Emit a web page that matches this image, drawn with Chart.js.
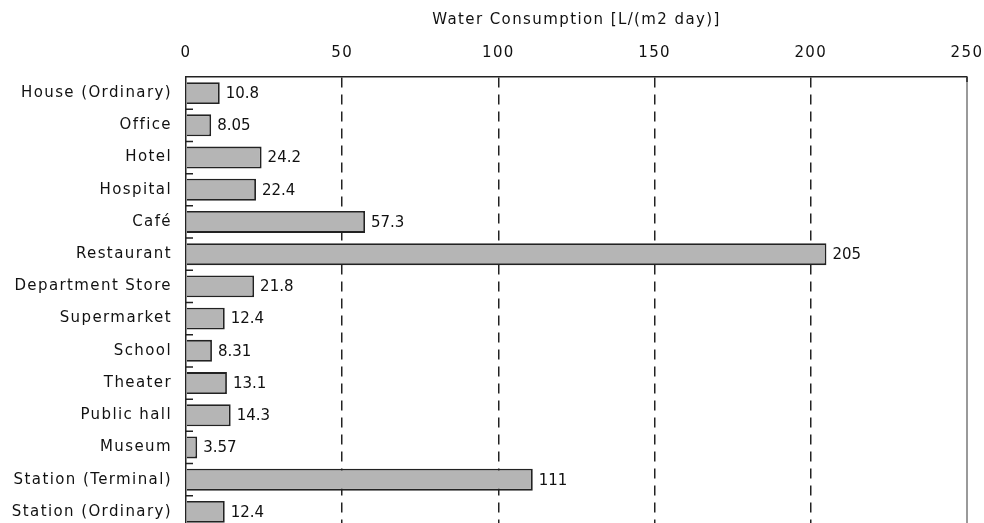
<!DOCTYPE html>
<html>
<head>
<meta charset="utf-8">
<script src="https://cdn.jsdelivr.net/npm/chart.js@4.4.1/dist/chart.umd.min.js"></script>
<style>
  html, body { margin: 0; padding: 0; background: #fff; overflow: hidden; }
  #wrap { width: 984px; height: 530px; }
</style>
</head>
<body>
<div id="wrap"><canvas id="waterChart" width="984" height="530"></canvas></div>
<script>
const categories = [
    'House (Ordinary)', 'Office', 'Hotel', 'Hospital', 'Café', 'Restaurant',
    'Department Store', 'Supermarket', 'School', 'Theater', 'Public hall',
    'Museum', 'Station (Terminal)', 'Station (Ordinary)'
];
const consumption = [10.8, 8.05, 24.2, 22.4, 57.3, 205, 21.8, 12.4, 8.31, 13.1, 14.3, 3.57, 111, 12.4];
const valueLabels = ['10.8', '8.05', '24.2', '22.4', '57.3', '205', '21.8', '12.4', '8.31', '13.1', '14.3', '3.57', '111', '12.4'];
const xTicks = [0, 50, 100, 150, 200, 250];
const axisTitle = 'Water Consumption [L/(m2 day)]';

const FONT = 'DejaVu Sans';

// value text at the end of each bar, plus small category ticks and the right border
const extrasPlugin = {
    id: 'extras',
    beforeDraw(chart) {
        // the original lettering is a bit wider than DejaVu
        chart.ctx.letterSpacing = '1.4px';
    },
    afterDatasetsDraw(chart) {
        const ctx = chart.ctx;
        const meta = chart.getDatasetMeta(0);
        ctx.save();
        ctx.letterSpacing = '0px';
        ctx.font = '15px "' + FONT + '"';
        ctx.fillStyle = '#111';
        ctx.textAlign = 'left';
        ctx.textBaseline = 'middle';
        meta.data.forEach((bar, i) => {
            ctx.fillText(valueLabels[i], bar.x + 6, bar.y + 1);
        });
        ctx.restore();
    },
    afterDraw(chart) {
        const ctx = chart.ctx;
        const area = chart.chartArea;
        const x = chart.scales.x;
        const y = chart.scales.y;
        ctx.save();
        // right border at the last tick
        ctx.strokeStyle = '#9a9a9a';
        ctx.lineWidth = 2;
        ctx.beginPath();
        const xr = x.getPixelForValue(250);
        ctx.moveTo(xr, area.top);
        ctx.lineTo(xr, area.bottom + 5);
        ctx.stroke();
        // stub at the top right corner
        ctx.strokeStyle = '#222';
        ctx.lineWidth = 1.5;
        ctx.beginPath();
        ctx.moveTo(xr, area.top);
        ctx.lineTo(xr, area.top + 5);
        ctx.stroke();
        // small ticks between categories, pointing inward
        ctx.beginPath();
        for (let i = 1; i < categories.length; i++) {
            const yy = (y.getPixelForValue(i - 1) + y.getPixelForValue(i)) / 2;
            ctx.moveTo(area.left, yy);
            ctx.lineTo(area.left + 7, yy);
        }
        ctx.stroke();
        ctx.restore();
    }
};

const ctx = document.getElementById('waterChart').getContext('2d');
new Chart(ctx, {
    type: 'bar',
    data: {
        labels: categories,
        datasets: [{
            data: consumption,
            backgroundColor: '#b5b5b5',
            borderColor: '#222',
            borderWidth: 1.8,
            categoryPercentage: 1,
            barPercentage: 0.68
        }]
    },
    options: {
        indexAxis: 'y',
        responsive: false,
        animation: false,
        layout: { padding: { left: 0, right: 17, top: 0, bottom: 2 } },
        plugins: {
            legend: { display: false },
            tooltip: { enabled: false }
        },
        scales: {
            x: {
                position: 'top',
                min: 0,
                max: 250,
                afterBuildTicks: (scale) => { scale.ticks = xTicks.map(v => ({ value: v })); },
                afterFit: (scale) => {
                    scale.height = 77;
                    scale.paddingLeft = 0;
                    scale.paddingRight = 0;
                },
                ticks: {
                    color: '#111',
                    font: { family: FONT, size: 15 },
                    padding: 15
                },
                grid: {
                    drawTicks: false,
                    lineWidth: 1.5,
                    color: (c) => (c.tick && c.tick.value > 0 && c.tick.value < 250) ? '#222' : 'rgba(0,0,0,0)'
                },
                border: { display: true, color: '#222', width: 1.5, dash: [10, 7] },
                title: {
                    display: true,
                    text: axisTitle,
                    color: '#111',
                    font: { family: FONT, size: 15 },
                    padding: { top: 11, bottom: 0 }
                }
            },
            y: {
                afterFit: (scale) => {
                    scale.width = 186;
                    scale.paddingTop = 0;
                    scale.paddingBottom = 0;
                },
                ticks: {
                    color: '#111',
                    font: { family: FONT, size: 15 },
                    padding: 14
                },
                grid: { display: false, drawTicks: false },
                border: { display: true, color: '#222', width: 1.5 }
            }
        }
    },
    plugins: [extrasPlugin]
});
</script>
</body>
</html>
